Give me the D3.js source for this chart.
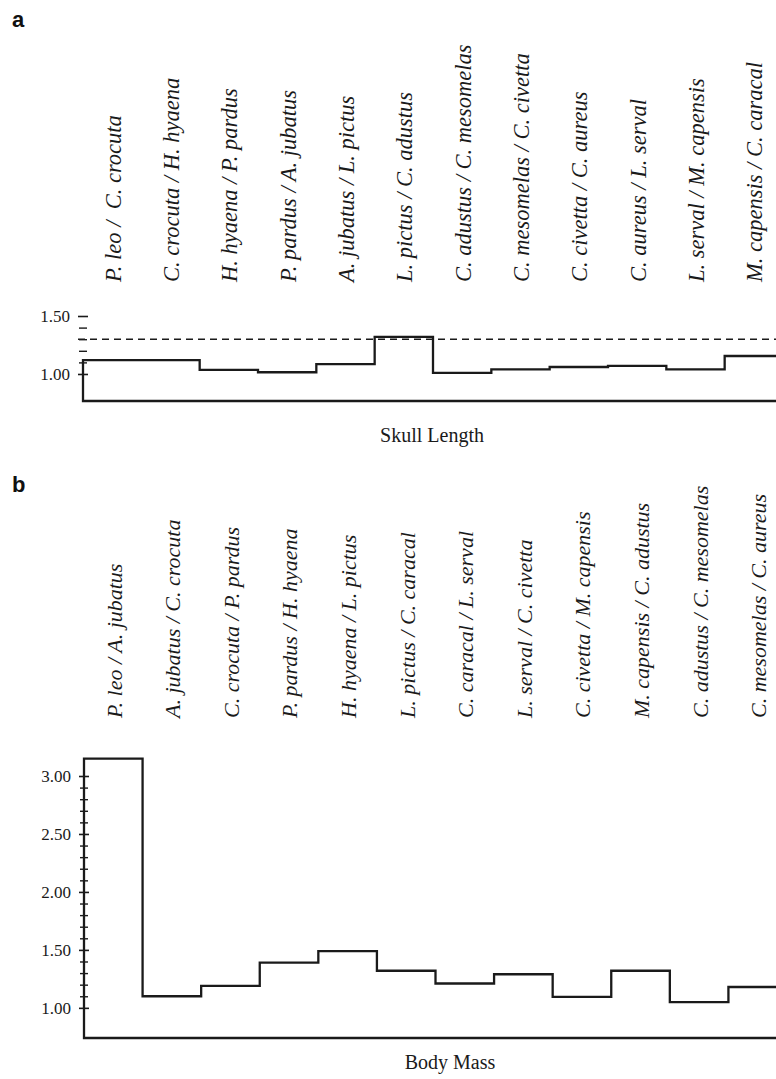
<!DOCTYPE html>
<html>
<head>
<meta charset="utf-8">
<script src="https://cdn.jsdelivr.net/npm/d3@7"></script>
<style>
  body { margin: 0; background: #fff; }
  svg { display: block; }
  .pair { font-family: 'Liberation Serif', 'DejaVu Serif', serif; font-style: italic; fill: #1a1a1a; }
  .title { font-family: 'Liberation Serif', serif; font-size: 20px; fill: #1a1a1a; }
  .panel { font-family: 'Liberation Sans', Arial, sans-serif; font-weight: bold; font-size: 22px; fill: #111; }
</style>
</head>
<body>
<div id="chart"></div>
<script>
// panel a: skull length ratios of consecutive species pairs
var skullPairs = ['P. leo /  C. crocuta', 'C. crocuta / H. hyaena', 'H. hyaena / P. pardus',
  'P. pardus / A. jubatus', 'A. jubatus / L. pictus', 'L. pictus / C. adustus',
  'C. adustus / C. mesomelas', 'C. mesomelas / C. civetta', 'C. civetta / C. aureus',
  'C. aureus / L. serval', 'L. serval / M. capensis', 'M. capensis / C. caracal']
var skullRatios = [1.12, 1.12, 1.035, 1.015, 1.085, 1.32, 1.01, 1.04, 1.06, 1.07, 1.04, 1.155]
var skullTicks = [1.00, 1.50]
var skullMinor = [1.10, 1.20, 1.30, 1.40]
var skullThreshold = 1.30

// panel b: body mass ratios
var massPairs = ['P. leo / A. jubatus', 'A. jubatus / C. crocuta', 'C. crocuta / P. pardus',
  'P. pardus / H. hyaena', 'H. hyaena / L. pictus', 'L. pictus / C. caracal',
  'C. caracal / L. serval', 'L. serval / C. civetta', 'C. civetta / M. capensis',
  'M. capensis / C. adustus', 'C. adustus / C. mesomelas', 'C. mesomelas / C. aureus']
var massRatios = [3.15, 1.10, 1.19, 1.39, 1.49, 1.32, 1.21, 1.29, 1.095, 1.32, 1.05, 1.18]
var massTicks = [1.00, 1.50, 2.00, 2.50, 3.00]
var massMinor = [1.1, 1.2, 1.3, 1.4, 1.6, 1.7, 1.8, 1.9, 2.1, 2.2, 2.3, 2.4, 2.6, 2.7, 2.8, 2.9]

var width = 776
var height = 1079

var svg = d3.select('#chart')
  .append('svg')
  .attr('width', width)
  .attr('height', height)

function drawPanel(opts) {
  var g = svg.append('g')

  var x = d3.scaleBand().domain(opts.pairs).range(opts.xRange)
  var y = d3.scaleLinear().domain(opts.yDomain).range(opts.yRange)

  var rows = opts.pairs.map((p, i) => ({ pair: p, value: opts.values[i] }))

  // rotated pair labels
  g.selectAll('.pair')
    .data(rows)
    .enter()
    .append('text')
    .attr('class', 'pair')
    .attr('font-size', opts.labelSize)
    .attr('transform', d => `translate(${x(d.pair) + x.bandwidth() / 2},${opts.labelY}) rotate(-90)`)
    .attr('dy', '0.38em')
    .style('white-space', 'pre')
    .text(d => d.pair)

  // threshold line
  if (opts.threshold) {
    g.append('line')
      .attr('x1', opts.xRange[0] - 5)
      .attr('x2', width)
      .attr('y1', y(opts.threshold))
      .attr('y2', y(opts.threshold))
      .attr('stroke', '#1a1a1a')
      .attr('stroke-width', 1.4)
      .attr('stroke-dasharray', '7,5')
  }

  // step outline, closed along the baseline
  var base = opts.yDomain[0]
  var pts = [[opts.xRange[0], base]]
  rows.forEach(d => pts.push([x(d.pair), d.value]))
  pts.push([opts.xRange[1], rows[rows.length - 1].value])
  pts.push([opts.xRange[1], base])

  var line = d3.line()
    .x(d => d[0])
    .y(d => y(d[1]))
    .curve(d3.curveStepAfter)

  g.append('path')
    .attr('d', line(pts) + 'Z')
    .attr('fill', 'none')
    .attr('stroke', '#1a1a1a')
    .attr('stroke-width', 2.3)

  // y axis
  var axis = g.append('g')
    .attr('transform', `translate(${opts.xRange[0]},0)`)
    .call(d3.axisLeft(y).tickValues(opts.ticks).tickFormat(d3.format('.2f')).tickSize(5).tickPadding(8))
  axis.selectAll('.tick line').attr('x1', 5).attr('stroke-width', 1.6).attr('stroke', '#1a1a1a')
  axis.selectAll('.tick text')
    .attr('fill', '#1a1a1a')
    .style('font-family', '"Liberation Serif", "Times New Roman", serif')
    .style('font-size', '17px')
  axis.select('.domain').remove()

  var minor = g.append('g')
    .attr('transform', `translate(${opts.xRange[0]},0)`)
    .call(d3.axisLeft(y).tickValues(opts.minor).tickFormat('').tickSize(4))
  minor.selectAll('.tick line').attr('x1', 4).attr('stroke-width', 1.4).attr('stroke', '#1a1a1a')
  minor.select('.domain').remove()

  g.append('text')
    .attr('class', 'title')
    .attr('font-size', opts.titleSize)
    .attr('x', opts.titleX)
    .attr('y', opts.titleY)
    .attr('text-anchor', 'middle')
    .text(opts.title)

  g.append('text')
    .attr('class', 'panel')
    .attr('x', 12)
    .attr('y', opts.letterY)
    .text(opts.letter)
}

drawPanel({
  pairs: skullPairs,
  values: skullRatios,
  ticks: skullTicks,
  minor: skullMinor,
  threshold: skullThreshold,
  xRange: [83, 783],
  yDomain: [0.767, 1.5],
  yRange: [401, 316],
  labelY: 282,
  labelSize: 22.5,
  title: 'Skull Length',
  titleSize: 19,
  titleX: 432,
  titleY: 442,
  letter: 'a',
  letterY: 27
})

drawPanel({
  pairs: massPairs,
  values: massRatios,
  ticks: massTicks,
  minor: massMinor,
  threshold: null,
  xRange: [84, 787],
  yDomain: [0.74, 3.0],
  yRange: [1038, 776],
  labelY: 718,
  labelSize: 22,
  title: 'Body Mass',
  titleSize: 20,
  titleX: 450,
  titleY: 1069,
  letter: 'b',
  letterY: 492
})
</script>
</body>
</html>
